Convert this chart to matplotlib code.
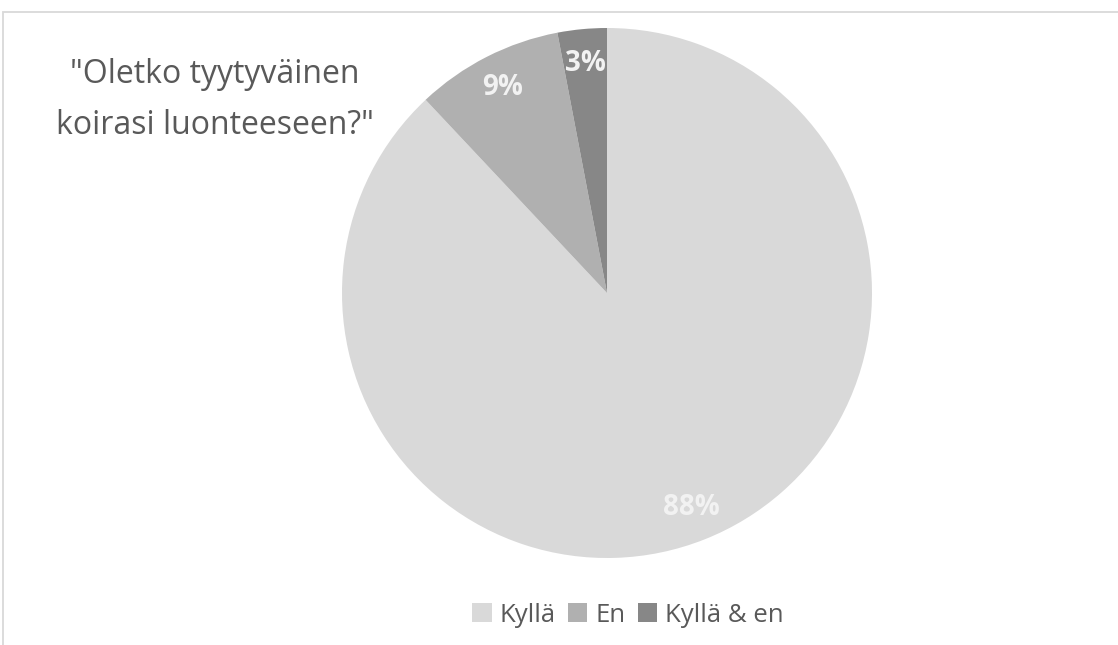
import matplotlib.pyplot as plt
from matplotlib.patches import Rectangle

# Data
labels = ["Kyllä", "En", "Kyllä & en"]
values = [88, 9, 3]
colors = ["#D9D9D9", "#B0B0B0", "#878787"]
title = '"Oletko tyytyväinen\nkoirasi luonteeseen?"'

plt.rcParams['font.family'] = ['Open Sans', 'DejaVu Sans']

W, H = 1118, 645
fig = plt.figure(figsize=(W / 100, H / 100), dpi=100)

# chart border (light gray frame)
fig.patches.append(Rectangle((3 / W, -0.1), 1.2, 1 - 12 / H + 0.1, transform=fig.transFigure,
                             fill=False, edgecolor="#D9D9D9", linewidth=1.3))

# pie axes: center (607, 293) px from top, radius 265 px
cx, cy, r = 607, H - 293, 265
ax = fig.add_axes([(cx - r) / W, (cy - r) / H, 2 * r / W, 2 * r / H])
wedges, texts, autotexts = ax.pie(values, colors=colors, startangle=90, counterclock=False,
                                  autopct='%1.0f%%', pctdistance=0.87,
                                  wedgeprops=dict(linewidth=0),
                                  textprops=dict(color="#F2F2F2", fontsize=20, fontweight="bold"))
ax.set_xlim(-1, 1)
ax.set_ylim(-1, 1)
ax.set_aspect('equal')

# title
fig.text(215 / W, 1 - 100 / H, title, ha='center', va='center', fontsize=23,
         color="#595959", linespacing=1.7)

# legend
handles = [Rectangle((0, 0), 1, 1, facecolor=c) for c in colors]
fig.legend(handles, labels, loc='center', bbox_to_anchor=(628 / W, 1 - 615 / H), ncol=3,
           frameon=False, fontsize=18.5, labelcolor="#595959", handlelength=0.75,
           handleheight=0.75, handletextpad=0.3, columnspacing=0.5)

fig.savefig("out.png", dpi=100)
